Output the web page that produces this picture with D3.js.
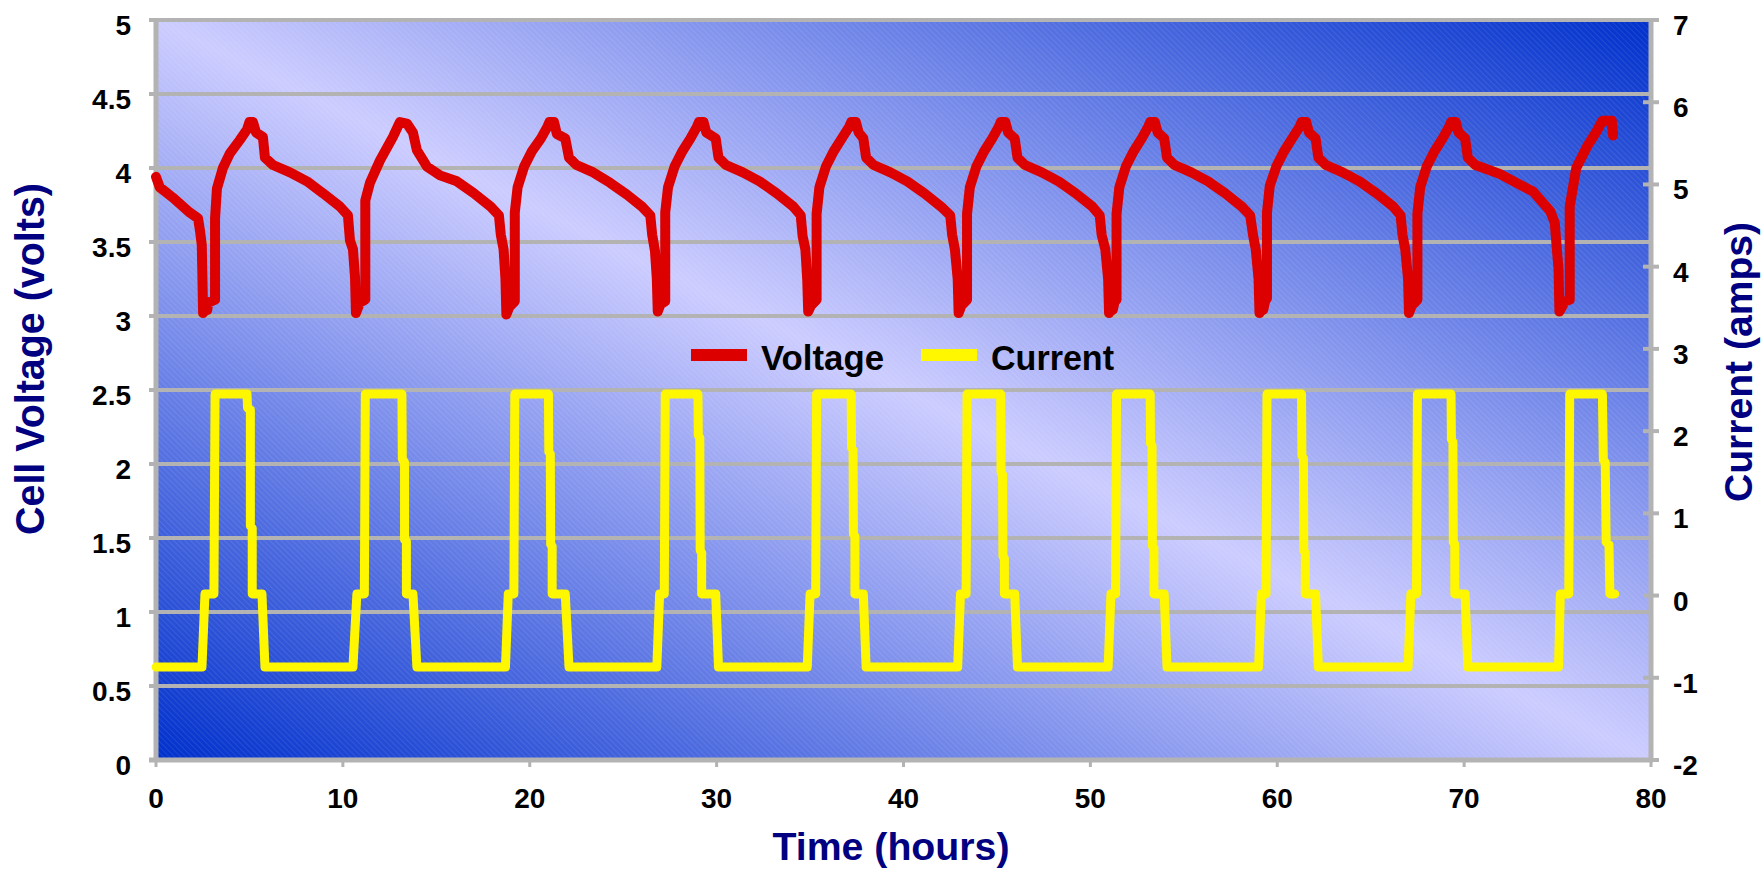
<!DOCTYPE html>
<html>
<head>
<meta charset="utf-8">
<script src="https://cdn.jsdelivr.net/npm/d3@7"></script>
<style>
    body { margin: 0; background: #ffffff; }
    svg { display: block; }
    text { font-family: "Liberation Sans", Arial, sans-serif; font-weight: bold; }
</style>
</head>
<body>
<svg id="chart" width="1763" height="870"></svg>
<script>

// time (hours), cell voltage (volts)
var voltageData = [
    [0,3.94],[0.2,3.87],[0.9,3.80],[1.8,3.70],[2.25,3.66],[2.35,3.58],[2.45,3.48],[2.47,3.35],[2.52,3.02],[2.62,3.04],[2.7,3.08],[2.74,3.04],[2.8,3.09],[3.16,3.11],
    [3.16,3.66],[3.26,3.86],[3.58,4.00],[3.96,4.10],[4.49,4.19],[4.87,4.26],[5.0,4.31],[5.19,4.31],[5.35,4.24],[5.72,4.21],[5.83,4.07],[6.26,4.02],[7.17,3.97],[8.08,3.91],[8.93,3.83],[9.84,3.74],[10.27,3.68],[10.38,3.51],[10.54,3.45],[10.65,3.26],[10.70,3.02],
    [10.91,3.09],[11.2,3.11],[11.2,3.78],[11.45,3.90],[11.98,4.05],[12.68,4.21],[13.05,4.31],[13.43,4.30],[13.75,4.24],[13.96,4.12],[14.5,4.01],[15.2,3.95],[16.1,3.91],[17.0,3.83],[17.9,3.74],[18.35,3.68],[18.45,3.55],[18.6,3.45],[18.7,3.25],[18.75,3.01],
    [18.9,3.06],[19.2,3.10],[19.2,3.70],[19.35,3.87],[19.7,4.01],[20.1,4.11],[20.6,4.20],[20.95,4.28],[21.05,4.31],[21.3,4.31],[21.45,4.23],[21.9,4.20],[22.1,4.07],[22.5,4.02],[23.4,3.97],[24.3,3.90],[25.2,3.82],[26.0,3.74],[26.45,3.68],[26.55,3.55],[26.7,3.44],[26.8,3.25],[26.85,3.03],
    [27.0,3.08],[27.25,3.10],[27.25,3.70],[27.4,3.87],[27.75,4.01],[28.15,4.11],[28.6,4.20],[28.95,4.28],[29.05,4.31],[29.3,4.31],[29.45,4.24],[29.95,4.20],[30.1,4.07],[30.5,4.02],[31.4,3.97],[32.3,3.91],[33.2,3.83],[34.1,3.74],[34.5,3.68],[34.6,3.54],[34.75,3.45],[34.85,3.24],[34.9,3.03],
    [35.05,3.07],[35.35,3.11],[35.35,3.69],[35.5,3.87],[35.85,4.01],[36.25,4.11],[36.7,4.20],[37.1,4.28],[37.2,4.31],[37.45,4.31],[37.6,4.24],[37.85,4.20],[38.0,4.07],[38.4,4.02],[39.3,3.97],[40.2,3.91],[41.1,3.83],[42.0,3.74],[42.5,3.68],[42.6,3.55],[42.75,3.45],[42.9,3.25],[42.95,3.02],
    [43.1,3.07],[43.4,3.11],[43.4,3.69],[43.55,3.87],[43.9,4.01],[44.3,4.11],[44.75,4.20],[45.1,4.28],[45.2,4.31],[45.45,4.31],[45.6,4.24],[45.95,4.20],[46.1,4.07],[46.5,4.02],[47.4,3.97],[48.3,3.91],[49.2,3.83],[50.1,3.74],[50.5,3.68],[50.6,3.55],[50.8,3.45],[50.95,3.25],[51.0,3.02],
    [51.1,3.08],[51.2,3.04],[51.3,3.10],[51.4,3.11],[51.4,3.69],[51.55,3.87],[51.9,4.01],[52.3,4.11],[52.75,4.20],[53.1,4.28],[53.2,4.31],[53.45,4.31],[53.6,4.24],[53.95,4.20],[54.1,4.07],[54.5,4.02],[55.4,3.97],[56.3,3.91],[57.2,3.83],[58.1,3.74],[58.55,3.68],[58.7,3.55],[58.85,3.45],[59.0,3.25],[59.05,3.02],
    [59.15,3.08],[59.25,3.04],[59.35,3.10],[59.45,3.12],[59.45,3.70],[59.6,3.88],[59.95,4.01],[60.35,4.11],[60.8,4.20],[61.2,4.28],[61.3,4.31],[61.55,4.31],[61.7,4.24],[62.05,4.20],[62.2,4.07],[62.6,4.02],[63.5,3.97],[64.4,3.91],[65.3,3.83],[66.2,3.74],[66.6,3.68],[66.7,3.55],[66.85,3.45],[67.0,3.25],[67.05,3.02],
    [67.2,3.07],[67.5,3.11],[67.5,3.69],[67.65,3.87],[68.0,4.01],[68.4,4.11],[68.85,4.20],[69.2,4.28],[69.3,4.31],[69.55,4.31],[69.7,4.24],[70.05,4.20],[70.2,4.07],[70.6,4.02],[71.9,3.96],[72.8,3.90],[73.7,3.84],[74.6,3.71],[74.85,3.63],[74.95,3.47],[75.05,3.32],[75.1,3.03],
    [75.4,3.10],[75.65,3.11],[75.65,3.74],[76.0,4.00],[76.6,4.15],[77.1,4.25],[77.4,4.32],[77.9,4.32],[77.97,4.22]
];

// time (hours), current (amps)
var currentData = [
    [0,-0.87],[2.46,-0.87],[2.62,0.02],[3.1,0.02],[3.16,2.45],[4.87,2.45],[4.9,2.28],[5.05,2.26],[5.05,0.85],[5.15,0.82],[5.15,0.02],[5.67,0.02],[5.83,-0.87],
    [10.54,-0.87],[10.75,0.02],[11.15,0.02],[11.2,2.45],[13.16,2.45],[13.18,1.66],[13.3,1.62],[13.3,0.68],[13.4,0.66],[13.4,0.02],[13.75,0.02],[13.96,-0.87],
    [18.7,-0.87],[18.85,0.02],[19.15,0.02],[19.2,2.45],[21.0,2.45],[21.02,1.75],[21.1,1.72],[21.12,0.62],[21.2,0.6],[21.2,0.02],[21.9,0.02],[22.1,-0.87],
    [26.8,-0.87],[26.95,0.02],[27.2,0.02],[27.25,2.45],[29.0,2.45],[29.02,1.95],[29.1,1.92],[29.12,0.55],[29.2,0.52],[29.2,0.02],[29.95,0.02],[30.1,-0.87],
    [34.85,-0.87],[35.0,0.02],[35.3,0.02],[35.35,2.45],[37.2,2.45],[37.22,1.8],[37.3,1.77],[37.32,0.75],[37.4,0.72],[37.4,0.02],[37.85,0.02],[38.0,-0.87],
    [42.9,-0.87],[43.05,0.02],[43.35,0.02],[43.4,2.45],[45.2,2.45],[45.22,1.5],[45.3,1.47],[45.32,0.48],[45.4,0.45],[45.4,0.02],[45.95,0.02],[46.1,-0.87],
    [50.95,-0.87],[51.1,0.02],[51.35,0.02],[51.4,2.45],[53.2,2.45],[53.22,1.85],[53.3,1.82],[53.32,0.6],[53.4,0.58],[53.4,0.02],[53.95,0.02],[54.1,-0.87],
    [59.0,-0.87],[59.15,0.02],[59.4,0.02],[59.45,2.45],[61.3,2.45],[61.32,1.7],[61.4,1.67],[61.42,0.55],[61.5,0.52],[61.5,0.02],[62.05,0.02],[62.2,-0.87],
    [67.0,-0.87],[67.15,0.02],[67.45,0.02],[67.5,2.45],[69.3,2.45],[69.32,1.9],[69.4,1.87],[69.42,0.65],[69.5,0.62],[69.5,0.02],[70.05,0.02],[70.2,-0.87],
    [75.05,-0.87],[75.15,0.02],[75.6,0.02],[75.65,2.45],[77.4,2.45],[77.45,1.65],[77.55,1.62],[77.6,0.65],[77.75,0.62],[77.8,0.02],[78.06,0.02]
];

var xTicks = [0, 10, 20, 30, 40, 50, 60, 70, 80];
var voltTicks = [0, 0.5, 1, 1.5, 2, 2.5, 3, 3.5, 4, 4.5, 5];
var ampTicks = [-2, -1, 0, 1, 2, 3, 4, 5, 6, 7];
var legendItems = [
    {name: "Voltage", color: "#dd0000"},
    {name: "Current", color: "#fff700"}
];

var plotL = 156, plotR = 1651, plotT = 20, plotB = 760;
var gridColor = "#b3b3b3";

var svg = d3.select("#chart");

var x = d3.scaleLinear().domain([0, 80]).range([plotL, plotR]);
var yV = d3.scaleLinear().domain([0, 5]).range([plotB, plotT]);
var yA = d3.scaleLinear().domain([-2, 7]).range([plotB, plotT]);

var defs = svg.append("defs");
var grad = defs.append("linearGradient")
    .attr("id", "plotBg")
    .attr("x1", 0).attr("y1", 1)
    .attr("x2", 1).attr("y2", 0);
grad.append("stop").attr("offset", 0).attr("stop-color", "#0030cc");
grad.append("stop").attr("offset", 0.5).attr("stop-color", "#ccccff");
grad.append("stop").attr("offset", 1).attr("stop-color", "#0030cc");

var hatch = defs.append("pattern")
    .attr("id", "hatch")
    .attr("patternUnits", "userSpaceOnUse")
    .attr("width", 4).attr("height", 4)
    .attr("patternTransform", "rotate(-45)");
hatch.append("line")
    .attr("x1", 0).attr("y1", 0).attr("x2", 0).attr("y2", 4)
    .attr("stroke", "#ffffff").attr("stroke-width", 1).attr("stroke-opacity", 0.18);

// plot area
svg.append("rect")
    .attr("x", plotL).attr("y", plotT)
    .attr("width", plotR - plotL).attr("height", plotB - plotT)
    .attr("fill", "url(#plotBg)");
svg.append("rect")
    .attr("x", plotL).attr("y", plotT)
    .attr("width", plotR - plotL).attr("height", plotB - plotT)
    .attr("fill", "url(#hatch)");

// grid lines
svg.selectAll(".grid").data(voltTicks.filter(d => d > 0)).enter().append("line")
    .attr("class", "grid")
    .attr("x1", plotL).attr("x2", plotR)
    .attr("y1", d => yV(d)).attr("y2", d => yV(d))
    .attr("stroke", gridColor).attr("stroke-width", 4);

// axes lines
svg.append("line").attr("x1", plotL).attr("x2", plotL).attr("y1", plotT - 2).attr("y2", plotB + 2)
    .attr("stroke", gridColor).attr("stroke-width", 5);
svg.append("line").attr("x1", plotR).attr("x2", plotR).attr("y1", plotT - 2).attr("y2", plotB + 2)
    .attr("stroke", gridColor).attr("stroke-width", 5);
svg.append("line").attr("x1", plotL - 7).attr("x2", plotR + 2).attr("y1", plotB).attr("y2", plotB)
    .attr("stroke", gridColor).attr("stroke-width", 5);

// tick marks
svg.selectAll(".vtick").data(voltTicks).enter().append("line")
    .attr("x1", plotL - 7).attr("x2", plotL)
    .attr("y1", d => yV(d)).attr("y2", d => yV(d))
    .attr("stroke", gridColor).attr("stroke-width", 4);
svg.selectAll(".atick").data(ampTicks).enter().append("line")
    .attr("x1", plotR - 8).attr("x2", plotR + 8)
    .attr("y1", d => yA(d)).attr("y2", d => yA(d))
    .attr("stroke", gridColor).attr("stroke-width", 4);
svg.selectAll(".xtick").data(xTicks).enter().append("line")
    .attr("x1", d => x(d)).attr("x2", d => x(d))
    .attr("y1", plotB).attr("y2", plotB + 7)
    .attr("stroke", gridColor).attr("stroke-width", 3);

// tick labels
svg.selectAll(".vlabel").data(voltTicks).enter().append("text")
    .attr("x", 131).attr("y", d => yV(d) + 15)
    .attr("text-anchor", "end").attr("font-size", 28).attr("fill", "#000")
    .text(d => d);
svg.selectAll(".alabel").data(ampTicks).enter().append("text")
    .attr("x", 1673).attr("y", d => yA(d) + 15)
    .attr("text-anchor", "start").attr("font-size", 28).attr("fill", "#000")
    .text(d => d);
svg.selectAll(".xlabel").data(xTicks).enter().append("text")
    .attr("x", d => x(d)).attr("y", 808)
    .attr("text-anchor", "middle").attr("font-size", 28).attr("fill", "#000")
    .text(d => d);

// axis titles
svg.append("text")
    .attr("transform", "translate(44,359) rotate(-90)")
    .attr("text-anchor", "middle").attr("font-size", 41).attr("fill", "#000080")
    .attr("textLength", 352).attr("lengthAdjust", "spacingAndGlyphs")
    .text("Cell Voltage (volts)");
svg.append("text")
    .attr("transform", "translate(1752,362) rotate(-90)")
    .attr("text-anchor", "middle").attr("font-size", 39).attr("fill", "#000080")
    .attr("textLength", 280).attr("lengthAdjust", "spacingAndGlyphs")
    .text("Current (amps)");
svg.append("text")
    .attr("x", 891).attr("y", 860)
    .attr("text-anchor", "middle").attr("font-size", 39).attr("fill", "#000080")
    .attr("textLength", 237).attr("lengthAdjust", "spacingAndGlyphs")
    .text("Time (hours)");

// series
var lineV = d3.line().x(d => x(d[0])).y(d => yV(d[1]));
var lineA = d3.line().x(d => x(d[0])).y(d => yA(d[1]));

svg.append("path")
    .datum(currentData)
    .attr("d", lineA)
    .attr("fill", "none").attr("stroke", legendItems[1].color)
    .attr("stroke-width", 9).attr("stroke-linejoin", "round").attr("stroke-linecap", "round");

svg.append("path")
    .datum(voltageData)
    .attr("d", lineV)
    .attr("fill", "none").attr("stroke", legendItems[0].color)
    .attr("stroke-width", 10).attr("stroke-linejoin", "round").attr("stroke-linecap", "round");

// legend
var legendX = [691, 921];
var leg = svg.selectAll(".legend").data(legendItems).enter().append("g")
    .attr("transform", (d, i) => "translate(" + legendX[i] + ",349)");
leg.append("rect")
    .attr("width", 56).attr("height", 12)
    .attr("fill", d => d.color);
leg.append("text")
    .attr("x", 70).attr("y", 21)
    .attr("font-size", 35).attr("fill", "#000")
    .attr("textLength", 123).attr("lengthAdjust", "spacingAndGlyphs")
    .text(d => d.name);

</script>
</body>
</html>
